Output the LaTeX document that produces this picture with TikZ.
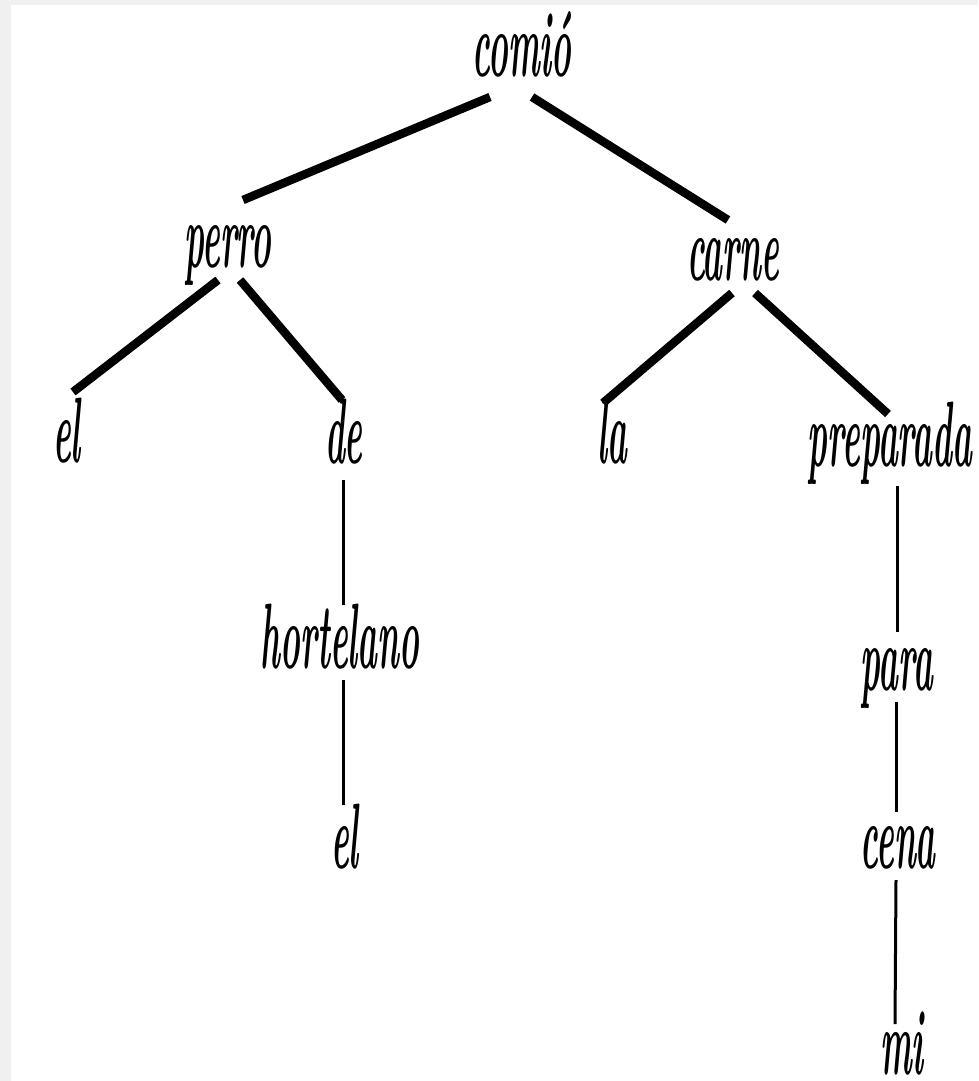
\documentclass[tikz,border=0pt]{standalone}
\usepackage{fontspec}
\usepackage{graphicx}
\tikzset{
    word/.style={inner sep=0pt, anchor=base,
        font=\fontsize{93}{100}\selectfont\bfseries\itshape},
    branch/.style={draw=black, line width=8.5pt},
    twig/.style={draw=black, line width=3pt},
}
\newcommand{\palabra}[1]{\scalebox{0.36}[1]{#1}}

\begin{document}
\begin{tikzpicture}[x=1pt, y=-1pt]
\useasboundingbox (0,0) rectangle (978,1081);
\fill[black!6] (0,0) rectangle (978,1081);
\fill[white] (11,5) rectangle (978,1081);
% words
\node[word] (comio) at (522,76) {\palabra{comió}};
\node[word] (perro) at (228,267) {\palabra{perro}};
\node[word] (carne) at (733,280) {\palabra{carne}};
\node[word] (el) at (67,462) {\palabra{el}};
\node[word] (de) at (344,463) {\palabra{de}};
\node[word] (la) at (612,463) {\palabra{la}};
\node[word] (preparada) at (890,466) {\palabra{preparada}};
\node[word] (hortelano) at (340,668) {\palabra{hortelano}};
\node[word] (elb) at (345,868) {\palabra{el}};
\node[word] (para) at (897,690) {\palabra{para}};
\node[word] (cena) at (898,868) {\palabra{cena}};
\node[word] (mi) at (902,1074) {\palabra{mi}};
% thick branches
\draw[branch] ([shift={(-32,21)}]comio.base) -- ([shift={(15,-67)}]perro.base);
\draw[branch] ([shift={(10,21)}]comio.base) -- ([shift={(-5,-60)}]carne.base);
\draw[branch] ([shift={(-10,13)}]perro.base) -- ([shift={(6,-70)}]el.base);
\draw[branch] ([shift={(12,13)}]perro.base) -- ([shift={(-2,-63)}]de.base);
\draw[branch] ([shift={(-1,13)}]carne.base) -- ([shift={(-9,-60)}]la.base);
\draw[branch] ([shift={(22,13)}]carne.base) -- ([shift={(-2,-52)}]preparada.base);
% thin lines
\draw[twig] ([shift={(-1,17)}]de.base) -- ([shift={(3,-63)}]hortelano.base);
\draw[twig] ([shift={(3,12)}]hortelano.base) -- ([shift={(-2,-63)}]elb.base);
\draw[twig] ([shift={(7,20)}]preparada.base) -- ([shift={(0,-58)}]para.base);
\draw[twig] ([shift={(-1,12)}]para.base) -- ([shift={(-2,-56)}]cena.base);
\draw[twig] ([shift={(-2,12)}]cena.base) -- ([shift={(-7,-50)}]mi.base);
\end{tikzpicture}
\end{document}
